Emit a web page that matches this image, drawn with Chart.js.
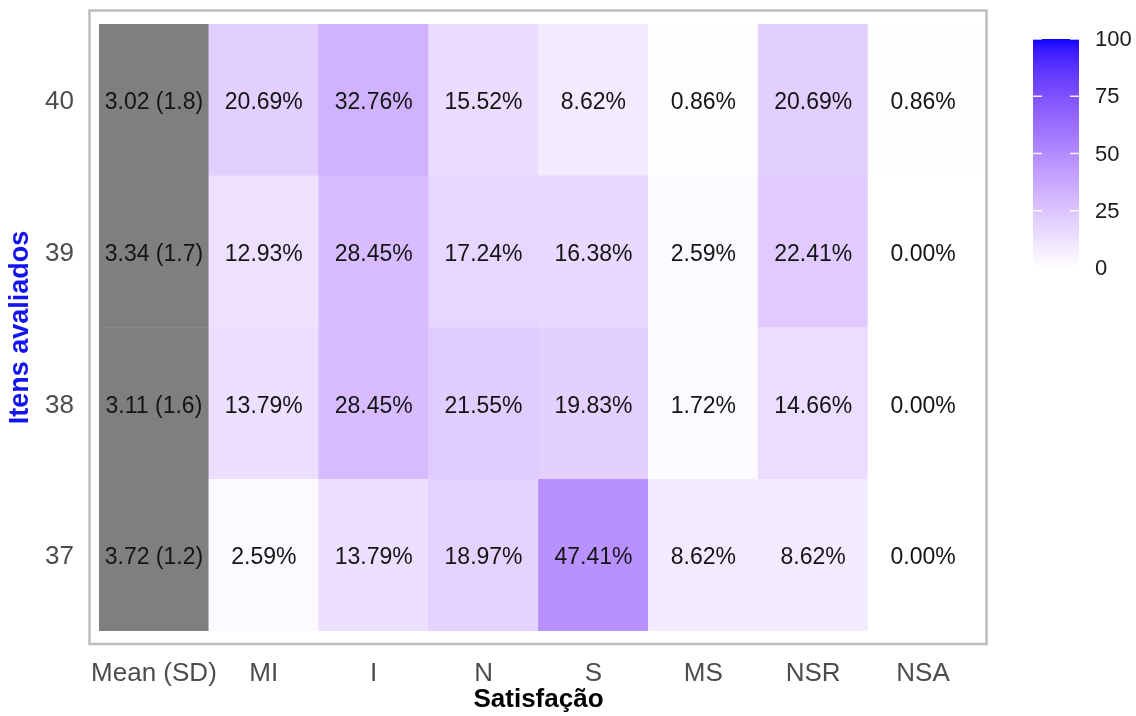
<!DOCTYPE html>
<html>
<head>
<meta charset="utf-8">
<script src="https://cdn.jsdelivr.net/npm/chart.js@4.4.1/dist/chart.umd.min.js"></script>
<style>
  html, body { margin: 0; padding: 0; background: #ffffff; }
  #wrap { width: 1136px; height: 716px; }
  canvas { display: block; }
</style>
</head>
<body>
<div id="wrap"><canvas id="heat" width="1136" height="716"></canvas></div>
<script>
// Columns of the grid (first column holds the mean and standard deviation)
const columns = ['Mean (SD)', 'MI', 'I', 'N', 'S', 'MS', 'NSR', 'NSA'];
// Items, listed from bottom row to top row
const items = ['37', '38', '39', '40'];
// Mean score and SD per item
const means = [3.72, 3.11, 3.34, 3.02];
const sds = [1.2, 1.6, 1.7, 1.8];
// Percentage of answers per satisfaction level (MI .. NSA) for each item
const pct37 = [2.59, 13.79, 18.97, 47.41, 8.62, 8.62, 0.00];
const pct38 = [13.79, 28.45, 21.55, 19.83, 1.72, 14.66, 0.00];
const pct39 = [12.93, 28.45, 17.24, 16.38, 2.59, 22.41, 0.00];
const pct40 = [20.69, 32.76, 15.52, 8.62, 0.86, 20.69, 0.86];
const pctRows = [pct37, pct38, pct39, pct40];
// Colour bar ticks
const barTicks = [0, 25, 50, 75, 100];
const xTitle = 'Satisfação';
const yTitle = 'Itens avaliados';

// ---- white -> blue gradient interpolated in CIE Lab ----
const WP = [0.95047, 1.0, 1.08883];
function toLin(c) { c /= 255; return c <= 0.04045 ? c / 12.92 : Math.pow((c + 0.055) / 1.055, 2.4); }
function toSrgb(v) {
  v = Math.min(1, Math.max(0, v));
  const s = v <= 0.0031308 ? 12.92 * v : 1.055 * Math.pow(v, 1 / 2.4) - 0.055;
  return Math.round(s * 255);
}
function rgbToLab(rgb) {
  const R = toLin(rgb[0]), G = toLin(rgb[1]), B = toLin(rgb[2]);
  const X = (0.4124 * R + 0.3576 * G + 0.1805 * B) / WP[0];
  const Y = (0.2126 * R + 0.7152 * G + 0.0722 * B) / WP[1];
  const Z = (0.0193 * R + 0.1192 * G + 0.9505 * B) / WP[2];
  const f = t => t > 0.008856 ? Math.cbrt(t) : (7.787 * t + 16 / 116);
  const fx = f(X), fy = f(Y), fz = f(Z);
  return [116 * fy - 16, 500 * (fx - fy), 200 * (fy - fz)];
}
function labToRgb(lab) {
  const fy = (lab[0] + 16) / 116, fx = fy + lab[1] / 500, fz = fy - lab[2] / 200;
  const fi = t => (t * t * t > 0.008856) ? t * t * t : (t - 16 / 116) / 7.787;
  const X = fi(fx) * WP[0], Y = fi(fy) * WP[1], Z = fi(fz) * WP[2];
  const R = 3.2406 * X - 1.5372 * Y - 0.4986 * Z;
  const G = -0.9689 * X + 1.8758 * Y + 0.0415 * Z;
  const B = 0.0557 * X - 0.2040 * Y + 1.0570 * Z;
  return [toSrgb(R), toSrgb(G), toSrgb(B)];
}
const LOW = rgbToLab([255, 255, 255]);
const HIGH = rgbToLab([0, 0, 255]);
function fillFor(v) {
  const t = Math.min(1, Math.max(0, v / 100));
  const lab = [0, 1, 2].map(i => LOW[i] + (HIGH[i] - LOW[i]) * t);
  const c = labToRgb(lab);
  return `rgb(${c[0]},${c[1]},${c[2]})`;
}
const MEAN_FILL = '#7F7F7F';

// One floating-bar dataset per item row: each cell spans [row, row + 1]
const datasets = items.map((item, r) => ({
  label: item,
  data: columns.map(() => [r, r + 1]),
  backgroundColor: columns.map((c, j) => j === 0 ? MEAN_FILL : fillFor(pctRows[r][j - 1])),
  borderWidth: 0,
  barPercentage: 1,
  categoryPercentage: 1,
  grouped: false
}));

function cellText(r, j) {
  if (j === 0) return means[r].toFixed(2) + ' (' + sds[r].toFixed(1) + ')';
  return pctRows[r][j - 1].toFixed(2) + '%';
}

const FONT = "'Liberation Sans', Arial, Helvetica, sans-serif";

const heatDecor = {
  id: 'heatDecor',
  afterDatasetsDraw(chart) {
    const ctx = chart.ctx;
    ctx.save();
    ctx.font = `23px ${FONT}`;
    ctx.fillStyle = '#141414';
    ctx.textAlign = 'center';
    ctx.textBaseline = 'middle';
    chart.data.datasets.forEach((ds, r) => {
      const meta = chart.getDatasetMeta(r);
      meta.data.forEach((bar, j) => {
        const cy = (bar.y + bar.base) / 2;
        ctx.fillText(cellText(r, j), bar.x, cy + 3);
      });
    });
    ctx.restore();
  },
  afterDraw(chart) {
    const ctx = chart.ctx;
    const ca = chart.chartArea;
    ctx.save();
    // panel frame
    ctx.strokeStyle = '#BDBDBD';
    ctx.lineWidth = 2.5;
    ctx.strokeRect(ca.left - 9.5, ca.top - 13.5, (ca.right - ca.left) + 18, (ca.bottom - ca.top) + 26.5);

    // colour bar legend
    const bx0 = 1033, bx1 = 1079, by0 = 39, by1 = 268;
    const h = by1 - by0;
    for (let y = by0; y < by1; y++) {
      const v = (by1 - (y + 0.5)) / h * 100;
      ctx.fillStyle = fillFor(v);
      ctx.fillRect(bx0, y, bx1 - bx0, 1);
    }
    ctx.strokeStyle = 'rgba(255,255,255,0.9)';
    ctx.lineWidth = 1.5;
    ctx.font = `22px ${FONT}`;
    ctx.fillStyle = '#1A1A1A';
    ctx.textAlign = 'left';
    ctx.textBaseline = 'middle';
    barTicks.forEach(v => {
      const y = by1 - v / 100 * h;
      ctx.beginPath();
      ctx.moveTo(bx0, y); ctx.lineTo(bx0 + 9, y);
      ctx.moveTo(bx1 - 9, y); ctx.lineTo(bx1, y);
      ctx.stroke();
      ctx.fillText(String(v), 1095, y + 1);
    });
    ctx.restore();
  }
};

new Chart(document.getElementById('heat'), {
  type: 'bar',
  data: { labels: columns, datasets },
  plugins: [heatDecor],
  options: {
    responsive: false,
    animation: false,
    devicePixelRatio: 1,
    layout: { padding: { top: 24, right: 158, bottom: 0, left: 0 } },
    plugins: {
      legend: { display: false },
      tooltip: { enabled: false }
    },
    scales: {
      x: {
        type: 'category',
        grid: { display: false, drawTicks: false, tickLength: 0 },
        border: { display: false },
        ticks: {
          color: '#4D4D4D',
          padding: 27,
          maxRotation: 0,
          autoSkip: false,
          font: { family: FONT, size: 26 }
        },
        title: {
          display: true,
          text: xTitle,
          color: '#000000',
          padding: { top: 0, bottom: 1 },
          font: { family: FONT, size: 26, weight: 'bold' }
        },
        afterFit(scale) {
          scale.height = 85;
          scale.paddingLeft = 0;
          scale.paddingRight = 0;
        }
      },
      y: {
        type: 'linear',
        min: 0,
        max: items.length,
        grid: { display: false, drawTicks: false, tickLength: 0 },
        border: { display: false },
        afterBuildTicks(scale) {
          scale.ticks = items.map((_, i) => ({ value: i + 0.5 }));
        },
        ticks: {
          color: '#4D4D4D',
          padding: 25,
          labelOffset: 2,
          font: { family: FONT, size: 26 },
          callback: (value) => items[Math.floor(value)]
        },
        title: {
          display: true,
          text: yTitle,
          color: '#1414F0',
          padding: { top: 4, bottom: 0 },
          font: { family: FONT, size: 27, weight: 'bold' }
        },
        afterFit(scale) {
          scale.width = 99;
          scale.paddingTop = 0;
          scale.paddingBottom = 0;
        }
      }
    }
  }
});
</script>
</body>
</html>
